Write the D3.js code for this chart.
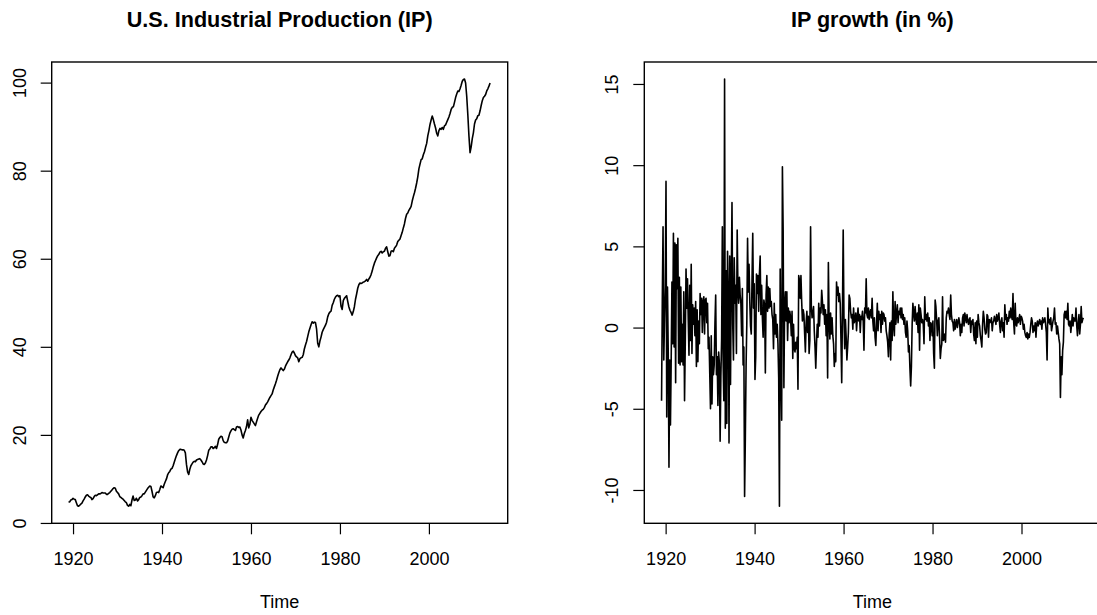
<!DOCTYPE html>
<html>
<head>
<meta charset="utf-8">
<script src="https://cdn.jsdelivr.net/npm/d3@7"></script>
<style>
  body { margin: 0; background: #fff; }
  svg { display: block; }
  text { font-family: "Liberation Sans", Arial, sans-serif; fill: #000; }
</style>
</head>
<body>
<div id="chart"></div>
<script>
// IP index (1919 Q1 .. 2013 Q4)
var ipStart = 1919;
var ipStep = 0.25;
var ipLevel = [
  4.7, 4.8, 5.2, 5.3,   5.6, 5.4, 5.3, 4.6,   3.9, 3.8, 4.0, 4.3,   4.5, 5.0, 5.4, 5.9,
  6.3, 6.4, 6.1, 5.9,   5.8, 5.3, 5.5, 6.0,   6.3, 6.2, 6.4, 6.6,   6.6, 6.7, 6.9, 6.8,
  6.8, 6.8, 6.5, 6.5,   6.7, 6.9, 7.2, 7.5,   7.8, 8.0, 7.9, 7.2,   6.9, 6.6, 6.0, 5.8,
  5.6, 5.4, 5.1, 4.8,   4.6, 4.0, 3.8, 4.2,   3.9, 5.2, 6.1, 5.1,   5.2, 5.6, 5.0, 5.3,
  5.8, 5.9, 6.2, 6.6,   6.6, 7.0, 7.4, 7.8,   8.1, 8.4, 8.3, 7.2,   5.9, 5.7, 6.2, 6.9,
  7.0, 6.9, 7.6, 8.4,   8.2, 8.0, 8.8, 9.4,   10.0, 10.9, 11.4, 11.7,   12.2, 12.4, 13.0, 13.8,
  14.6, 15.3, 15.9, 16.4,   16.7, 16.7, 16.6, 16.6,   16.5, 15.9, 13.3, 11.6,   11.0, 12.2, 13.0, 13.4,
  13.8, 14.0, 13.9, 14.3,   14.4, 14.5, 14.6, 14.3,   13.9, 13.4, 13.3, 13.6,   14.3, 15.3, 16.5, 16.8,
  17.3, 17.3, 16.9, 17.1,   17.4, 16.9, 17.8, 19.0,   19.4, 19.7, 19.6, 18.7,   18.3, 18.2, 18.2, 18.6,
  19.5, 20.4, 20.9, 21.3,   21.4, 21.2, 21.0, 21.8,   21.9, 21.7, 21.8, 21.1,   20.0, 19.3, 20.3, 21.0,
  21.9, 23.4, 21.6, 22.4,   24.0, 23.3, 22.9, 22.5,   22.1, 23.0, 23.8, 24.5,   24.9, 25.3, 25.6, 25.8,
  26.2, 26.8, 27.1, 27.5,   28.0, 28.5, 28.9, 29.3,   30.2, 30.9, 31.6, 32.4,   33.3, 34.1, 34.8, 35.2,
  34.9, 34.6, 34.9, 35.6,   36.1, 36.6, 37.0, 37.5,   38.2, 38.8, 39.0, 38.6,   38.0, 37.7, 37.5, 36.6,
  37.3, 37.5, 37.6, 38.2,   39.5, 40.4, 41.2, 42.3,   43.4, 44.2, 45.0, 45.7,   45.4, 45.6, 45.5, 44.0,
  40.8, 40.0, 41.3, 42.2,   43.3, 43.9, 44.4, 44.9,   45.6, 46.8, 47.5, 47.9,   48.1, 49.4, 50.0, 50.8,
  51.3, 51.6, 51.7, 51.4,   51.6, 49.2, 48.5, 50.5,   51.0, 51.3, 51.6, 50.3,   49.1, 48.3, 47.8, 47.2,
  48.0, 49.1, 50.8, 52.0,   53.3, 54.1, 54.5, 54.4,   54.5, 54.7, 54.8, 55.0,   55.3, 54.9, 55.4, 55.8,
  56.4, 57.2, 58.2, 59.0,   59.6, 60.2, 60.7, 61.0,   61.5, 61.7, 61.3, 61.6,   61.7, 62.4, 62.7, 61.6,
  60.6, 60.7, 61.7, 61.8,   61.6, 62.4, 62.7, 63.1,   63.9, 64.2, 64.5, 65.3,   66.0, 67.0, 67.9, 69.2,
  70.1, 70.4, 71.0, 71.4,   71.9, 73.1, 74.1, 75.0,   76.0, 77.2, 78.6, 80.4,   81.5, 82.5, 82.7, 83.6,
  84.3, 85.3, 86.2, 87.9,   89.1, 90.5, 91.5, 92.4,   91.6, 90.6, 89.7, 88.5,   87.9, 89.1, 89.6, 89.4,
  89.8, 89.4, 90.2, 90.4,   91.0, 91.6, 92.2, 93.0,   93.9, 94.4, 94.5, 95.5,   96.6, 97.4, 98.1, 98.0,
  98.6, 99.4, 100.3, 100.7,   100.8, 99.9, 96.9, 92.7,   87.9, 84.1, 85.4, 87.3,   88.6, 90.6, 91.5, 91.8,
  92.5, 92.6, 93.6, 94.8,   95.9, 96.6, 96.9, 97.3,   98.1, 98.6, 99.2, 99.9
];

// monthly growth in %, read every second month off the right panel (Feb 1919 .. Dec 2013)
var growthStart = 1919 + 1 / 12;
var growthStep = 1 / 6;
var ipGrowth = [
  -4.5, 1.7, 6.2, -2.0, 0.5, 2.5,
  9.0, -5.5, 2.5, -1.5, -8.6, -2.0,
  -6.0, -2.0, 2.8, -1.0, 5.8, -1.2,
  5.2, -3.4, 5.1, 2.4, 5.5, -2.2,
  3.1, -2.3, 2.5, -2.1, 0.2, -2.3,
  2.2, -4.5, -0.9, 3.6, 1.2, 3.0,
  0.5, -1.7, 2.6, -0.8, 3.9, -1.6,
  1.4, 0.2, 1.2, -0.5, 1.6, -2.4,
  1.1, -2.1, 0.4, -1.0, 2.1, 0.8,
  1.8, -0.3, 1.6, 1.9, -0.4, 1.7,
  1.8, 0.3, 1.5, -1.3, -0.6, -2.8,
  -5.0, -0.5, -4.7, -1.8, -2.9, -2.3,
  0.2, 2.0, -2.9, -1.8, -4.8, -1.5,
  -2.2, -7.0, -3.0, -0.7, 6.2, -2.0,
  -4.5, 15.3, -6.2, 3.5, -5.9, 4.7,
  2.0, -7.1, 4.4, -3.5, 2.8, 7.7,
  0.2, -2.0, 4.3, 1.5, 2.6, -1.6,
  6.0, 2.4, 1.5, 3.1, 2.0, 1.5,
  -0.5, 2.4, -2.3, -1.2, -10.4, -6.8,
  -2.4, 0.3, 5.5, 2.2, 3.9, 1.6,
  0.1, -0.4, 2.9, 5.8, 1.2, 2.7,
  -3.2, -1.8, 3.3, 2.1, 3.2, 1.0,
  3.3, 4.4, 0.8, 2.6, 0.6, -0.6,
  1.7, 1.4, -2.8, 2.0, 3.2, 1.0,
  2.5, 1.2, 2.4, 1.3, 1.6, 0.8,
  0.5, -1.3, 1.5, -0.4, 0.8, -0.6,
  0.2, -1.0, -3.1, -11.0, 3.6, -2.5,
  -5.7, 9.9, 6.0, -3.7, 1.3, 2.2,
  0.4, 2.2, -0.8, 1.2, 0.3, 1.0,
  0.6, -0.5, 1.0, -1.9, 0.2, -1.3,
  -1.5, -0.9, -1.3, -0.6, -3.8, 3.2,
  2.9, 1.8, 3.2, 1.6, 0.4, 1.1,
  0.8, -0.4, -1.5, 0.3, 1.0, -0.3,
  0.7, -1.6, -0.8, 6.2, 1.3, 0.6,
  0.8, 1.3, -0.2, -1.2, -2.5, -1.0,
  0.2, -0.6, 1.5, 0.1, 1.2, 0.9,
  2.3, 1.6, 0.8, 1.4, 0.2, 1.1,
  -0.5, 0.8, -3.1, 4.0, 0.4, -0.7,
  0.9, -0.4, 0.6, -0.5, -1.0, -2.4,
  -1.6, -2.1, 2.8, 2.0, 2.5, 1.6,
  2.1, 1.5, -0.8, -3.4, 1.0, 6.0,
  0.7, -1.3, 0.5, -0.6, -2.0, -1.2,
  -0.3, 2.0, 1.8, 1.0, 0.6, 0.8,
  -0.1, 1.2, 0.3, 0.5, 0.9, -0.2,
  0.6, 1.2, 0.4, 0.8, -0.3, 0.7,
  0.5, 1.0, 0.4, -1.4, 1.2, 0.9,
  3.0, 0.8, 0.6, 1.2, 0.5, 0.9,
  1.1, 0.6, 1.8, 0.4, -0.2, 0.6,
  -0.6, -1.1, 0.3, 1.5, -0.2, 1.0,
  0.5, 0.8, -0.3, 1.0, 0.2, 0.9,
  0.8, 0.4, 0.6, -0.2, -0.5, -0.9,
  -1.8, -0.4, 0.3, -2.0, 0.4, -0.8,
  2.2, 0.1, -0.5, 1.6, 0.2, 0.9,
  1.4, 0.3, 1.0, 0.8, 1.2, 0.6,
  1.2, 0.5, 0.8, 0.2, 0.6, -0.3,
  -0.6, 0.4, -0.2, -1.5, -1.1, -2.5,
  -3.6, -2.4, 0.2, 1.5, 0.9, 0.4,
  1.3, 0.6, 0.2, 0.9, -0.3, 1.4,
  -1.4, 1.2, 0.8, 0.3, 0.5, 0.2,
  -1.0, 1.9, 0.5, 0.8, 0.4, 0.9,
  0.1, 0.6, -0.8, 0.3, 0.2, -0.5,
  0.4, -1.6, -2.5, 1.7, 1.3, 0.5,
  -0.5, 0.4, 0.6, -0.6, -1.9, -1.3,
  -1.0, 1.9, -0.8, -0.7, -0.4, -0.9,
  0.6, 1.0, 0.9, 1.2, 0.8, 0.5,
  2.0, 0.8, 0.4, 0.3, -0.2, 0.5,
  -0.1, 0.2, 0.5, 0.0, 0.3, 0.6,
  0.3, -0.5, 0.2, -0.3, 0.6, 0.8,
  0.1, 0.9, 0.6, 0.3, 0.8, 0.4,
  0.2, 0.5, 0.6, -0.3, 0.4, 0.2,
  0.5, -0.4, -0.8, 0.3, -1.0, 0.4,
  -0.6, 0.8, 0.3, 0.1, -0.5, -0.8,
  -1.2, 0.2, 1.0, 0.6, -0.1, -0.4,
  -0.3, 0.8, 0.7, -0.6, 0.5, 0.3,
  0.4, 0.6, -0.2, 0.3, 0.4, 0.7,
  0.5, 0.2, 0.8, 0.4, 0.6, 0.9,
  0.2, -0.3, 0.4, 0.6, -0.2, 0.3,
  -0.6, 1.4, 0.5, 0.8, 0.2, 0.6,
  0.4, 1.0, 0.6, 1.2, 0.7, 0.5,
  2.1, 0.3, -0.4, 1.5, 0.2, 0.1,
  0.6, 0.3, 0.5, 0.8, 0.2, 0.7,
  0.6, 0.4, -0.1, 0.2, -0.3, -0.5,
  -0.6, -0.3, -0.7, -0.4, -0.6, -0.3,
  0.2, 0.6, 0.4, -0.3, 0.1, -0.2,
  0.3, -0.6, 0.2, 0.4, 0.1, 0.3,
  0.5, 0.2, 0.4, -0.1, 0.6, 0.3,
  0.4, 0.6, 0.2, -0.3, -2.0, 1.2,
  0.3, 0.5, 0.2, 0.6, -0.2, 0.1,
  0.4, 0.6, 1.2, 0.2, 0.3, -0.4,
  0.1, -0.3, -0.7, -1.0, -4.3, -1.8,
  -2.9, -1.4, -0.9, 0.8, 1.0, 0.6,
  1.0, 0.5, 1.5, 0.2, 0.1, 0.4,
  -0.3, 0.2, 0.8, 0.1, 0.6, 0.4,
  0.4, 1.2, 0.1, -0.5, 0.3, 0.8,
  -0.4, 0.2, 1.3, 0.3, 0.5, 0.6
];

// time span of the monthly series, and the tick labels
var seriesSpan = [1919, 2013 + 11 / 12];
var yearTicks = [1920, 1940, 1960, 1980, 2000];
var levelTicks = [0, 20, 40, 60, 80, 100];
var growthTicks = [-10, -5, 0, 5, 10, 15];
var panelTitles = ["U.S. Industrial Production (IP)", "IP growth (in %)"];
var xTitle = "Time";

var W = 1097, H = 615;
var boxTop = 62, boxBottom = 523.3, boxW = 456;
var fontSize = 18;

var svg = d3.select("#chart")
    .append("svg")
    .attr("width", W)
    .attr("height", H);

// R pads the data range by 4% on each side
function padRange(ext) {
    var d = (ext[1] - ext[0]) * 0.04;
    return [ext[0] - d, ext[1] + d];
}

function drawPanel(left, values, start, step, yTicks, title) {
    var x = d3.scaleLinear()
        .domain(padRange(seriesSpan))
        .range([left, left + boxW]);
    var y = d3.scaleLinear()
        .domain(padRange(d3.extent(values)))
        .range([boxBottom, boxTop]);

    var g = svg.append("g");

    // box
    g.append("rect")
        .attr("x", left)
        .attr("y", boxTop)
        .attr("width", boxW)
        .attr("height", boxBottom - boxTop)
        .attr("fill", "none")
        .attr("stroke", "#000")
        .attr("stroke-width", 1.4);

    // series
    var line = d3.line()
        .x(function(d, i) { return x(start + i * step); })
        .y(function(d) { return y(d); });
    g.append("path")
        .datum(values)
        .attr("d", line)
        .attr("fill", "none")
        .attr("stroke", "#000")
        .attr("stroke-width", 1.6)
        .attr("stroke-linejoin", "round");

    // x axis
    var xa = g.append("g")
        .attr("transform", "translate(0," + boxBottom + ")")
        .call(d3.axisBottom(x).tickValues(yearTicks).tickSize(11).tickPadding(18).tickFormat(d3.format("d")));
    // y axis
    var ya = g.append("g")
        .attr("transform", "translate(" + left + ",0)")
        .call(d3.axisLeft(y).tickValues(yTicks).tickSize(11).tickFormat(d3.format("d")));

    [xa, ya].forEach(function(a) {
        a.select(".domain").remove();
        a.attr("font-size", fontSize).attr("font-family", null);
        a.selectAll("line").attr("stroke", "#000").attr("stroke-width", 1.2);
    });
    ya.selectAll("text")
        .attr("x", 0)
        .attr("dy", null)
        .attr("text-anchor", "middle")
        .attr("transform", "translate(-26,0) rotate(-90)")
        .text(function(d) { return d < 0 ? "-" + Math.abs(d) : d; });

    // titles
    g.append("text")
        .attr("x", left + boxW / 2)
        .attr("y", 27)
        .attr("text-anchor", "middle")
        .attr("font-size", 21.6)
        .attr("font-weight", "bold")
        .text(title);
    g.append("text")
        .attr("x", left + boxW / 2)
        .attr("y", 608)
        .attr("text-anchor", "middle")
        .attr("font-size", fontSize)
        .text(xTitle);
}

drawPanel(51.7, ipLevel, ipStart, ipStep, levelTicks, panelTitles[0]);
drawPanel(644.3, ipGrowth, growthStart, growthStep, growthTicks, panelTitles[1]);
</script>
</body>
</html>
